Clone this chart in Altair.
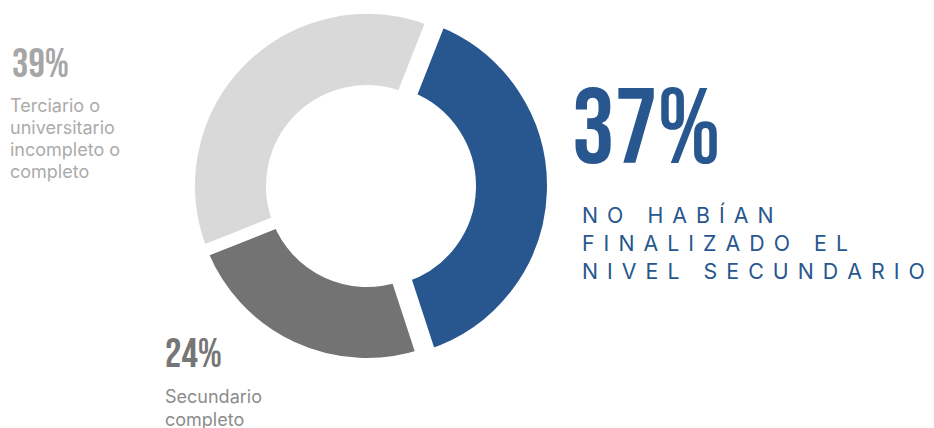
import math
import altair as alt
import pandas as pd

# ---- data ----
categories = ["No habían finalizado\nel nivel secundario", "Secundario\ncompleto", "Terciario o\nuniversitario\nincompleto o\ncompleto"]
# slice sizes as drawn in the picture (the printed labels below are what the chart states)
slice_values = [39, 24, 37]
pct_labels = ["37%", "24%", "39%"]
order = [0, 1, 2]
colors = ["#27578E", "#737373", "#D9D9D9"]
subtitle = "NO HABÍAN\nFINALIZADO EL\nNIVEL SECUNDARIO"

df = pd.DataFrame({"cat": categories, "value": slice_values, "pct": pct_labels, "order": order})

START = math.radians(21.5)
CX, CY = 359, 178
BLUE_SHIFT = 8

base = alt.Chart(df).transform_window(
    cum="sum(value)", sort=[alt.SortField("order")]
).transform_calculate(start="datum.cum - datum.value")

theta = alt.Theta("start:Q", scale=alt.Scale(domain=[0, 100], range=[START, START + 2 * math.pi]))
color = alt.Color("cat:N", scale=alt.Scale(domain=categories, range=colors), legend=None)

arc_kw = dict(innerRadius=95, outerRadius=178, stroke="white", strokeWidth=12)

grays = base.transform_filter("datum.order > 0").mark_arc(**arc_kw).encode(
    theta=theta, theta2="cum:Q", color=color, x=alt.value(CX), y=alt.value(CY)
)
blue = base.transform_filter("datum.order == 0").mark_arc(**arc_kw).encode(
    theta=theta, theta2="cum:Q", color=color, x=alt.value(CX + BLUE_SHIFT), y=alt.value(CY)
)

COND = "Bebas Neue"

def pct_text(idx, x, y, size, col):
    return alt.Chart(df).transform_filter(f"datum.order == {idx}").mark_text(
        font=COND, fontSize=size, color=col, align="left", baseline="alphabetic"
    ).encode(text="pct:N", x=alt.value(x), y=alt.value(y))

def desc_text(idx, x, y, col, lh):
    return alt.Chart(df).transform_filter(f"datum.order == {idx}").mark_text(
        font="Inter", fontSize=18, color=col, align="left", baseline="alphabetic",
        lineBreak="\n", lineHeight=lh
    ).encode(text="cat:N", x=alt.value(x), y=alt.value(y))

spaced = "\n".join("\u2004\u200a".join(line) for line in subtitle.split("\n"))
sub_df = pd.DataFrame({"t": [spaced]})
sub = alt.Chart(sub_df).mark_text(
    font="Inter", fontSize=21.3, color="#27578E", align="left", baseline="alphabetic",
    lineBreak="\n", lineHeight=28.3
).encode(text="t:N", x=alt.value(574), y=alt.value(214.5))

chart = alt.layer(
    grays, blue,
    pct_text(2, 4, 68.7, 41, "#A6A6A6"),
    desc_text(2, 2, 104, "#ABABAB", 22),
    pct_text(1, 157, 359, 41, "#767676"),
    desc_text(1, 157, 395, "#8C8C8C", 23),
    pct_text(0, 564, 154.7, 107, "#27578E"),
    sub,
).properties(width=918, height=420, padding=0, autosize="none").configure_view(stroke=None)

chart.save("out.html", embed_options={"renderer": "svg", "actions": False})
